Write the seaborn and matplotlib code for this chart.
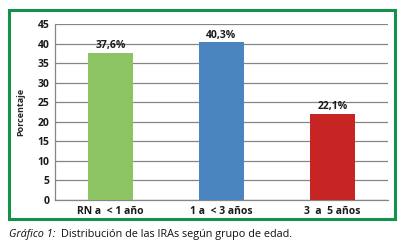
import pandas as pd
import seaborn as sns
import matplotlib.pyplot as plt
from matplotlib.patches import Rectangle

categories = ["RN a  < 1 año", "1 a  < 3 años", "3  a  5 años"]
values = [37.6, 40.3, 22.1]
labels = ["37,6%", "40,3%", "22,1%"]
colors = ["#8CC363", "#4A85C0", "#C62524"]

df = pd.DataFrame({"grupo": categories, "porcentaje": values})

sns.set_theme(style="white")
plt.rcParams["font.family"] = ["Open Sans", "DejaVu Sans"]

fig = plt.figure(figsize=(4.05, 2.43), dpi=100)
ax = fig.add_axes([55 / 405, 1 - 200 / 243, 333 / 405, 176 / 243])

sns.barplot(data=df, x="grupo", y="porcentaje", hue="grupo", palette=colors,
            width=0.41, saturation=1, legend=False, linewidth=0, ax=ax, zorder=3)

ax.set_ylim(0, 45)
ax.set_yticks(range(0, 46, 5))
ax.yaxis.grid(True, color="#868686", linewidth=0.9, zorder=0)
ax.set_axisbelow(True)
for side in ["top", "right"]:
    ax.spines[side].set_visible(False)
for side in ["left", "bottom"]:
    ax.spines[side].set_color("#868686")
    ax.spines[side].set_linewidth(0.9)

ax.tick_params(axis="both", length=0, labelsize=7.5, pad=4, colors="#1a1a1a")
for t in ax.get_xticklabels() + ax.get_yticklabels():
    t.set_fontweight("bold")
ax.set_xlabel("")
ax.set_ylabel("Porcentaje", fontsize=6.5, fontweight="bold", labelpad=9)

for i, (v, lab) in enumerate(zip(values, labels)):
    ax.text(i, v + 0.4, lab, ha="center", va="bottom", fontsize=7.5,
            fontweight="bold", color="#1a1a1a")

# green frame around the chart
fig.patches.append(Rectangle((9 / 405, 1 - 219 / 243), 386 / 405, 209 / 243,
                             transform=fig.transFigure, fill=False,
                             edgecolor="#14924A", linewidth=2.2))

fig.text(9 / 405, 1 - 234 / 243, "Gráfico 1:", fontsize=7.8, style="italic",
         color="#111111", va="center", ha="left")
fig.text(61 / 405, 1 - 234 / 243, "Distribución de las IRAs según grupo de edad.",
         fontsize=7.8, color="#111111", va="center", ha="left")

fig.savefig("out.png", dpi=100)
